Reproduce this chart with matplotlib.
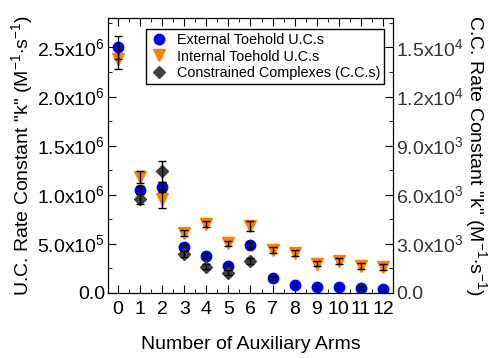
import numpy as np
import matplotlib.pyplot as plt
from matplotlib.ticker import FuncFormatter, MultipleLocator

plt.rcParams['font.family'] = ['Liberation Sans', 'DejaVu Sans']
plt.rcParams['mathtext.fontset'] = 'custom'
plt.rcParams['mathtext.rm'] = 'Liberation Sans'

# data
arms = np.arange(13)
ext_k = [2.50e6, 1.045e6, 1.078e6, 4.7e5, 3.78e5, 2.77e5, 4.87e5, 1.49e5, 8.1e4, 6.4e4, 5.8e4, 5.4e4, 4.1e4]
ext_err = [1.2e5, 4e4, 5e4, 3e4, 2.5e4, 2.5e4, 3e4, 2e4, 2e4, 2e4, 2e4, 2e4, 2e4]
int_k = [2.38e6, 1.18e6, 0.96e6, 6.12e5, 7.07e5, 5.04e5, 6.8e5, 4.36e5, 4.03e5, 3.0e5, 3.25e5, 2.74e5, 2.67e5]
int_err = [1.0e5, 6e4, 9e4, 3e4, 3e4, 3e4, 5e4, 3e4, 3e4, 3e4, 3e4, 3e4, 3e4]
cc_arms = np.arange(1, 7)
cc_k = [5730, 7440, 2380, 1600, 1240, 1950]
cc_err = [300, 650, 180, 160, 160, 170]


def sci(x, pos):
    if x == 0:
        return '0.0'
    e = int(np.floor(np.log10(abs(x)) + 1e-9))
    m = x / 10 ** e
    return '%.1fx$10^{%d}$' % (m, e)


fig = plt.figure(figsize=(4.9, 3.58), dpi=100)
ax = fig.add_axes([0.2204, 0.1816, 0.5816, 0.7681])
ax2 = ax.twinx()

# markers first, error bars on top
h2, = ax.plot(arms, int_k, 'v', color='#ff8000', ms=8, label='Internal Toehold U.C.s', zorder=2)
h1, = ax.plot(arms, ext_k, 'o', color='#0000ff', ms=7.5, label='External Toehold U.C.s', zorder=3)
ax.errorbar(arms, int_k, yerr=int_err, fmt='none', ecolor='black', elinewidth=1, capsize=3, zorder=4)
ax.errorbar(arms, ext_k, yerr=ext_err, fmt='none', ecolor='black', elinewidth=1, capsize=3, zorder=4)
h3, = ax2.plot(cc_arms, cc_k, 'D', color='#404040', ms=6.5, label='Constrained Complexes (C.C.s)', zorder=2)
ax2.errorbar(cc_arms, cc_k, yerr=cc_err, fmt='none', ecolor='black', elinewidth=1, capsize=3, zorder=3)

ax.set_xlim(-0.45, 12.45)
ax.set_ylim(0, 2.8e6)
ax2.set_ylim(0, 2.8e6 * 0.006)

ax.xaxis.set_major_locator(MultipleLocator(1))
ax.xaxis.set_minor_locator(MultipleLocator(0.5))
ax.yaxis.set_major_locator(MultipleLocator(5e5))
ax.yaxis.set_minor_locator(MultipleLocator(2.5e5))
ax2.yaxis.set_major_locator(MultipleLocator(3e3))
ax2.yaxis.set_minor_locator(MultipleLocator(1.5e3))
ax.yaxis.set_major_formatter(FuncFormatter(sci))
ax2.yaxis.set_major_formatter(FuncFormatter(sci))

ax.tick_params(axis='both', which='both', direction='in', top=True, labelsize=14, pad=4)
ax.tick_params(which='major', length=6)
ax.tick_params(which='minor', length=3)
ax.tick_params(axis='y', right=False, pad=2)
ax.tick_params(axis='x', pad=6)
ax2.tick_params(axis='y', which='both', direction='in', labelsize=14, pad=2, labelcolor='#333333')
ax2.tick_params(which='major', length=6)
ax2.tick_params(which='minor', length=3)

ax.set_xlabel('Number of Auxiliary Arms', fontsize=14, labelpad=13)
ax.set_ylabel('U.C. Rate Constant "k" (M$^{-1}$$\\cdot$s$^{-1}$)', fontsize=14, labelpad=1)
ax2.set_ylabel('C.C. Rate Constant "k" (M$^{-1}$$\\cdot$s$^{-1}$)', fontsize=14,
               rotation=270, labelpad=18)

ax2.legend([h1, h2, h3], [h1.get_label(), h2.get_label(), h3.get_label()],
           loc='upper right', bbox_to_anchor=(0.97, 0.96), fontsize=10.4, fancybox=False,
           edgecolor='black', framealpha=1, handletextpad=0.6, borderpad=0.25,
           labelspacing=0.2, handlelength=1.3, borderaxespad=0)

fig.savefig('out.png', dpi=100)
